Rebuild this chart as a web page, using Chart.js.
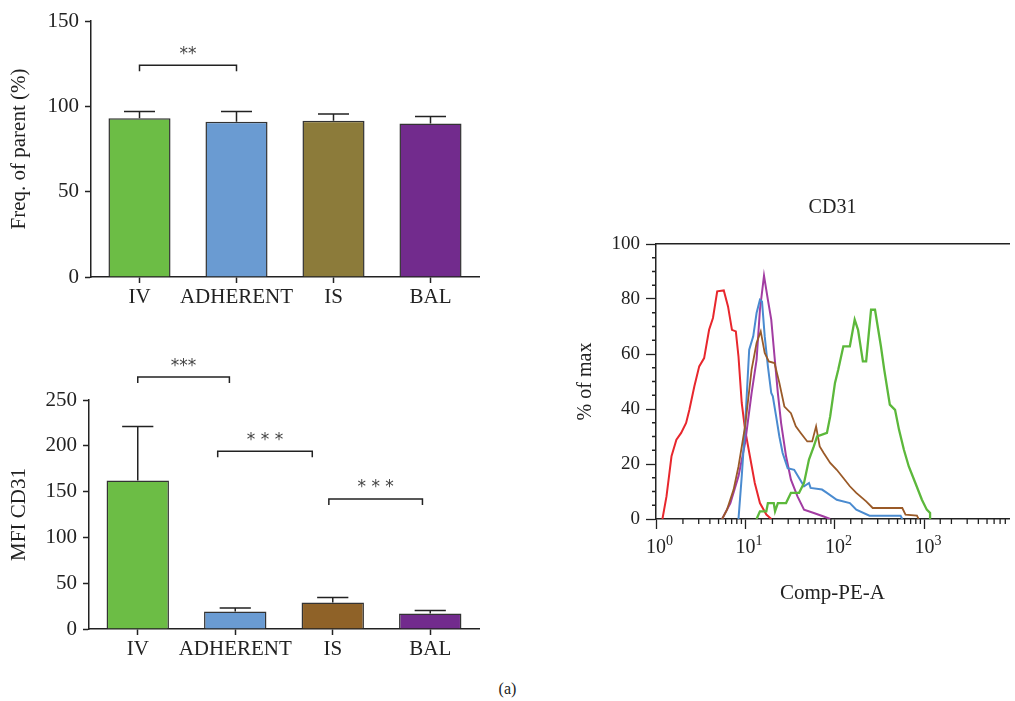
<!DOCTYPE html>
<html>
<head>
<meta charset="utf-8">
<script src="https://cdn.jsdelivr.net/npm/chart.js@4"></script>
<style>
  body { margin: 0; background: #fff; width: 1015px; height: 701px; position: relative; overflow: hidden; }
  canvas { position: absolute; }
  #caption { position: absolute; left: 0; width: 1015px; top: 680px; text-align: center; font: 16px "Liberation Serif", serif; color: #222; }
</style>
</head>
<body>
<canvas id="freq" width="490" height="320" style="left:0;top:0"></canvas>
<canvas id="mfi" width="490" height="340" style="left:0;top:340px"></canvas>
<canvas id="hist" width="445" height="420" style="left:570px;top:190px"></canvas>
<div id="caption">(a)</div>
<script>
// bar charts
const categories = ["IV", "ADHERENT", "IS", "BAL"];
const freqMean = [93, 91, 91.5, 90];
const freqUpper = [97, 97, 95.5, 94];
const mfiMean = [162, 19, 29, 17];
const mfiUpper = [221, 23, 34.5, 20.3];
const freqColors = ["#6cbd45", "#6a9bd2", "#8c7b3a", "#722b8d"];
const mfiColors = ["#6cbd45", "#6a9bd2", "#8f6228", "#722b8d"];

// significance brackets (category index positions, y in data units)
const freqSigFrom = [0];
const freqSigTo = [1];
const freqSigY = [124];
const freqSigText = ["**"];
const mfiSigFrom = [0, 0.82, 1.96];
const mfiSigTo = [0.94, 1.79, 2.92];
const mfiSigY = [275, 194, 142];
const mfiSigText = ["***", "* * *", "* * *"];

// CD31 histogram (x = Comp-PE-A, y = % of max)
const redX = [1.18, 1.31, 1.49, 1.69, 1.91, 2.17, 2.36, 2.68, 3.04, 3.45, 3.92, 4.33, 4.83, 5.72, 6.38, 7.06, 7.8, 8.35, 9.08, 9.89, 11.2, 12.7, 14.5, 17.1, 19.4];
const redY = [0, 8.2, 22.8, 28.8, 31.3, 34.9, 39.7, 48.2, 55.5, 58.5, 68.8, 73.1, 82.8, 83.1, 77.3, 68.8, 68.2, 59.1, 42.2, 32.5, 22.8, 13.1, 5.8, 1.6, 0];
const purpleX = [5.48, 6.78, 8.35, 9.89, 11.7, 13.3, 14.5, 16.1, 17.8, 19.4, 21.1, 23.0, 25.0, 28.4, 32.2, 38.1, 45.1, 58.0, 74.8, 88.4];
const purpleY = [0, 5.8, 15.5, 27.6, 45.8, 57.9, 76.1, 88.5, 79.7, 72.5, 59.1, 45.8, 34.9, 22.8, 14.3, 8.2, 3.4, 2.2, 0.9, 0];
const blueX = [8.35, 9.08, 9.89, 11.0, 12.2, 13.3, 14.5, 15.3, 16.4, 17.8, 19.4, 20.2, 22.0, 23.9, 26.0, 29.6, 35.0, 39.7, 45.1, 51.2, 53.4, 71.6, 81.3, 104.7, 146.6, 173, 243, 541, 565];
const blueY = [0, 15.5, 33.7, 61.6, 66.4, 74.9, 79.7, 79.1, 66.4, 55.5, 45.8, 44.6, 37.3, 30.0, 24.0, 18.5, 17.9, 14.9, 11.9, 13.1, 11.3, 10.7, 9.5, 7.0, 5.8, 3.4, 1.2, 1.2, 0];
const brownX = [5.48, 6.22, 7.36, 8.35, 9.89, 11.7, 13.3, 14.8, 16.4, 18.2, 21.1, 23.9, 27.2, 32.2, 36.5, 41.4, 49.0, 55.6, 61.5, 67.5, 74.8, 88.4, 104.7, 124, 146.6, 173, 223, 264, 565, 614, 824, 859];
const brownY = [0, 3.4, 10.7, 19.1, 33.7, 54.3, 64.0, 68.2, 60.4, 57.3, 56.7, 49.5, 40.9, 38.5, 33.7, 31.3, 28.2, 28.2, 33.7, 26.4, 24.0, 20.4, 17.9, 14.9, 11.9, 9.5, 6.4, 4.0, 4.0, 1.6, 1.2, 0];
const greenX = [13.3, 14.5, 17.1, 17.8, 20.7, 21.4, 23.0, 28.4, 32.2, 39.7, 45.1, 51.2, 58.0, 63.1, 81.3, 88.4, 100, 108.7, 124, 146.6, 166, 181, 205, 223, 253, 280, 326, 355, 410, 469, 519, 589, 668, 791, 936, 1061, 1155, 1155];
const greenY = [0, 2.8, 2.8, 5.8, 5.8, 2.8, 5.8, 5.8, 9.5, 9.5, 13.1, 21.6, 26.4, 30.0, 31.3, 37.3, 49.5, 54.3, 62.8, 62.8, 72.5, 68.8, 57.3, 57.3, 76.1, 76.1, 62.8, 54.3, 41.6, 39.7, 32.5, 25.2, 19.1, 13.1, 7.0, 3.4, 2.2, 0];

const histYMax = 100;
const histXMax = 8800;

const INK = "#222";
const SERIF = "'Liberation Serif', 'Times New Roman', serif";

function toPoints(xs, ys) {
  return xs.map((x, i) => ({ x: x, y: ys[i] }));
}

function isPow10(v) {
  const l = Math.log10(v);
  return Math.abs(l - Math.round(l)) < 1e-9;
}

const errorBars = {
  id: "errorBars",
  afterDatasetsDraw(chart, args, opts) {
    const ctx = chart.ctx;
    const y = chart.scales.y;
    const meta = chart.getDatasetMeta(0);
    ctx.save();
    ctx.strokeStyle = INK;
    ctx.lineWidth = 1.5;
    opts.upper.forEach((v, i) => {
      const bar = meta.data[i];
      const top = y.getPixelForValue(v);
      const half = bar.width / 4;
      ctx.beginPath();
      ctx.moveTo(bar.x, bar.y);
      ctx.lineTo(bar.x, top);
      ctx.moveTo(bar.x - half, top);
      ctx.lineTo(bar.x + half, top);
      ctx.stroke();
    });
    ctx.restore();
  }
};

const brackets = {
  id: "brackets",
  afterDraw(chart, args, opts) {
    const ctx = chart.ctx;
    const { x, y } = chart.scales;
    ctx.save();
    ctx.strokeStyle = INK;
    ctx.lineWidth = 1.5;
    ctx.fillStyle = "#444";
    ctx.font = "17px 'DejaVu Sans', sans-serif";
    ctx.textAlign = "center";
    ctx.textBaseline = "middle";
    opts.from.forEach((f, i) => {
      const x1 = x.getPixelForValue(f);
      const x2 = x.getPixelForValue(opts.to[i]);
      const py = y.getPixelForValue(opts.y[i]);
      ctx.beginPath();
      ctx.moveTo(x1, py + 6);
      ctx.lineTo(x1, py);
      ctx.lineTo(x2, py);
      ctx.lineTo(x2, py + 6);
      ctx.stroke();
      ctx.fillText(opts.text[i], (x1 + x2) / 2, py - 11);
    });
    ctx.restore();
  }
};

function barChart(id, means, colors, upper, yMax, title, yWidth, xHeight, topPad, sig) {
  return new Chart(document.getElementById(id), {
    type: "bar",
    data: {
      labels: categories,
      datasets: [{
        data: means,
        backgroundColor: colors,
        borderColor: "#333",
        borderWidth: 1.5,
        barPercentage: 0.64,
        categoryPercentage: 1
      }]
    },
    options: {
      responsive: false,
      animation: false,
      devicePixelRatio: 1,
      layout: { padding: { top: topPad, right: 11, left: 0, bottom: 0 } },
      plugins: {
        legend: { display: false },
        tooltip: { enabled: false },
        errorBars: { upper: upper },
        brackets: sig
      },
      scales: {
        x: {
          offset: true,
          grid: { display: true, drawOnChartArea: false, offset: false, tickLength: 6, tickColor: INK, tickWidth: 1.5 },
          border: { color: INK, width: 1.5 },
          ticks: { autoSkip: false, color: INK, font: { family: SERIF, size: 21 }, padding: 2, maxRotation: 0 },
          afterFit: s => { s.height = xHeight; }
        },
        y: {
          min: 0,
          max: yMax,
          ticks: { stepSize: 50, color: INK, font: { family: SERIF, size: 21 }, padding: 6 },
          grid: { display: true, drawOnChartArea: false, tickLength: 6, tickColor: INK, tickWidth: 1.5 },
          border: { color: INK, width: 1.5 },
          title: { display: true, text: title, color: INK, font: { family: SERIF, size: 21 }, padding: { top: 7, bottom: 4 } },
          afterFit: s => { s.width = yWidth; }
        }
      }
    },
    plugins: [errorBars, brackets]
  });
}

barChart("freq", freqMean, freqColors, freqUpper, 150, "Freq. of parent (%)", 91, 43, 21,
  { from: freqSigFrom, to: freqSigTo, y: freqSigY, text: freqSigText });
barChart("mfi", mfiMean, mfiColors, mfiUpper, 250, "MFI CD31", 89, 51, 60,
  { from: mfiSigFrom, to: mfiSigTo, y: mfiSigY, text: mfiSigText });

// minor ticks and 10^n labels for the histogram axes
const logAxisDecor = {
  id: "logAxisDecor",
  afterDraw(chart) {
    const ctx = chart.ctx;
    const { x, y } = chart.scales;
    const area = chart.chartArea;
    ctx.save();
    ctx.strokeStyle = INK;
    ctx.lineWidth = 1.3;
    ctx.beginPath();
    y.ticks.forEach(t => {
      if (t.value % 20 !== 0) {
        const py = y.getPixelForValue(t.value);
        ctx.moveTo(area.left - 4, py);
        ctx.lineTo(area.left, py);
      }
    });
    x.ticks.forEach(t => {
      if (!isPow10(t.value) && t.value < histXMax) {
        const px = x.getPixelForValue(t.value);
        ctx.moveTo(px, area.bottom);
        ctx.lineTo(px, area.bottom + 5);
      }
    });
    ctx.stroke();

    ctx.fillStyle = INK;
    ctx.textBaseline = "alphabetic";
    x.ticks.forEach(t => {
      if (isPow10(t.value) && t.value < histXMax) {
        const px = x.getPixelForValue(t.value);
        const base = area.bottom + 34;
        ctx.font = "20px " + SERIF;
        ctx.textAlign = "center";
        ctx.fillText("10", px, base);
        const w = ctx.measureText("10").width;
        ctx.font = "14px " + SERIF;
        ctx.textAlign = "left";
        ctx.fillText(String(Math.round(Math.log10(t.value))), px + w / 2, base - 8);
      }
    });
    ctx.restore();
  }
};

const histSeries = [
  { xs: greenX, ys: greenY, color: "#5cb83b", width: 2.3 },
  { xs: brownX, ys: brownY, color: "#9a5a28", width: 1.8 },
  { xs: blueX, ys: blueY, color: "#4a8bd0", width: 2 },
  { xs: purpleX, ys: purpleY, color: "#a23ca2", width: 2 },
  { xs: redX, ys: redY, color: "#e8272d", width: 2 }
];

new Chart(document.getElementById("hist"), {
  type: "line",
  data: {
    datasets: histSeries.map(s => ({
      data: toPoints(s.xs, s.ys),
      borderColor: s.color,
      borderWidth: s.width,
      pointRadius: 0,
      tension: 0,
      fill: false
    }))
  },
  options: {
    responsive: false,
    animation: false,
    devicePixelRatio: 1,
    layout: { padding: 0 },
    plugins: { legend: { display: false }, tooltip: { enabled: false } },
    scales: {
      x: {
        type: "logarithmic",
        min: 1,
        max: histXMax,
        grid: {
          display: true, drawOnChartArea: false, tickLength: 10, tickWidth: 1.3,
          tickColor: c => (c.tick && isPow10(c.tick.value) ? INK : "rgba(0,0,0,0)")
        },
        border: { color: INK, width: 1.5 },
        ticks: { autoSkip: false, maxRotation: 0, padding: 6, callback: () => "" },
        title: { display: true, text: "Comp-PE-A", color: INK, font: { family: SERIF, size: 21 }, padding: { top: 0, bottom: 4 } },
        afterFit: s => { s.height = 91; }
      },
      x2: {
        type: "linear",
        position: "top",
        display: true,
        grid: { display: false },
        ticks: { display: false },
        border: { color: INK, width: 1.5 },
        title: { display: true, text: "CD31", color: INK, font: { family: SERIF, size: 20 }, padding: { top: 6, bottom: 0 } },
        afterFit: s => { s.height = 54; }
      },
      y: {
        min: 0,
        max: histYMax,
        ticks: {
          stepSize: 5, autoSkip: false, color: INK, padding: 6,
          font: { family: SERIF, size: 19 },
          callback: v => (v % 20 === 0 ? v : "")
        },
        grid: {
          display: true, drawOnChartArea: false, tickLength: 10, tickWidth: 1.3,
          tickColor: c => (c.tick && c.tick.value % 20 === 0 ? INK : "rgba(0,0,0,0)")
        },
        border: { color: INK, width: 1.5 },
        title: { display: true, text: "% of max", color: INK, font: { family: SERIF, size: 20 }, padding: { top: 4, bottom: 4 } },
        afterFit: s => { s.width = 86; }
      }
    }
  },
  plugins: [logAxisDecor]
});
</script>
</body>
</html>
